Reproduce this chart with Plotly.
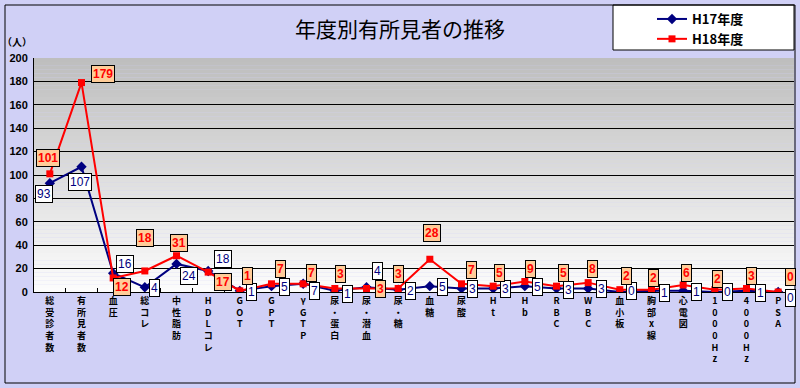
import plotly.graph_objects as go

categories = ["総受診者数", "有所見者数", "血圧", "総コレ", "中性脂肪", "HDLコレ", "GOT", "GPT", "γGTP",
              "尿・蛋白", "尿・潜血", "尿・糖", "血糖", "尿酸", "Ht", "Hb", "RBC", "WBC", "血小板",
              "胸部x線", "心電図", "1000Hz", "4000Hz", "PSA"]
h17 = [93, 107, 16, 4, 24, 18, 1, 5, 7, 1, 4, 2, 5, 3, 3, 5, 3, 3, 0, 1, 1, 0, 1, 0]
h18 = [101, 179, 12, 18, 31, 17, 1, 7, 7, 3, 3, 3, 28, 7, 5, 9, 5, 8, 2, 2, 6, 2, 3, 0]
y_ticks = [0, 20, 40, 60, 80, 100, 120, 140, 160, 180, 200]

# label offsets in pixels (dx right, dy down)
off17 = [(-6, 11), (-2, 15), (12, -9), (10, 1), (12, 12), (15, -12), (12, 1), (13, 1), (11, 7),
         (13, 3), (11, -16), (12, 1), (13, 1), (11, 1), (12, 1), (13, 1), (12, 2), (13, 1),
         (12, -1), (13, 2), (13, 1), (13, 0), (14, 2), (12, 6)]
off18 = [(-2, -16), (21, -9), (9, 9), (0, -33), (2, -13), (15, 10), (8, -15), (9, -15), (8, -11),
         (6, -14), (14, 1), (0, -14), (2, -26), (10, -14), (6, -13), (6, -12), (7, -13), (4, -14),
         (7, -14), (2, -12), (3, -12), (3, -11), (5, -12), (12, -15)]

tick_text = ["<br>".join(list(c)) for c in categories]

fig = go.Figure()
fig.add_trace(go.Scatter(x=categories, y=h17, mode="lines+markers", name="H17年度",
                         line=dict(color="#000080", width=2),
                         marker=dict(symbol="diamond", size=8, color="#000080")))
fig.add_trace(go.Scatter(x=categories, y=h18, mode="lines+markers", name="H18年度",
                         line=dict(color="#ff0000", width=2),
                         marker=dict(symbol="square", size=7, color="#ff0000")))

annotations = []
for c, v, (dx, dy) in zip(categories, h17, off17):
    annotations.append(dict(x=c, y=v, text=str(v), showarrow=False, xshift=dx, yshift=-dy,
                            font=dict(family="Liberation Sans", size=12, color="#000080"),
                            bgcolor="white", bordercolor="black", borderwidth=1, borderpad=1))
for c, v, (dx, dy) in zip(categories, h18, off18):
    annotations.append(dict(x=c, y=v, text="<b>%d</b>" % v, showarrow=False, xshift=dx, yshift=-dy,
                            font=dict(family="Liberation Sans", size=12, color="#ff0000"),
                            bgcolor="#ffcc99", bordercolor="black", borderwidth=1, borderpad=1))
annotations.append(dict(xref="paper", yref="paper", x=(17 - 34) / 760, y=(292 - 41) / 234,
                        xanchor="center", yanchor="middle",
                        text="<b>（人）</b>", showarrow=False,
                        font=dict(family="Noto Sans CJK JP", size=10, color="black")))

shapes = []
# plot-area gradient
n = 60
for i in range(n):
    t = i / (n - 1)
    g = int(round(0xbe + (0xfc - 0xbe) * t))
    col = "rgb(%d,%d,%d)" % (g, g, g)
    shapes.append(dict(type="rect", xref="paper", yref="paper", x0=0, x1=1,
                       y0=1 - (i + 1) / n, y1=1 - i / n, fillcolor=col, line=dict(width=0),
                       layer="below"))
# legend box
shapes.append(dict(type="rect", xref="paper", yref="paper",
                   x0=(613 - 34) / 760, x1=(794 - 34) / 760,
                   y0=(292 - 50) / 234, y1=(292 - 5) / 234,
                   fillcolor="white", line=dict(color="black", width=1), layer="below"))
# outer border
shapes.append(dict(type="rect", xref="paper", yref="paper",
                   x0=(5 - 34) / 760, x1=(795 - 34) / 760,
                   y0=(292 - 383) / 234, y1=(292 - 5) / 234,
                   line=dict(color="black", width=1), layer="above"))

fig.update_layout(
    width=800, height=388,
    margin=dict(l=34, r=6, t=58, b=96, autoexpand=False),
    paper_bgcolor="#d0d0f6",
    plot_bgcolor="rgba(0,0,0,0)",
    title=dict(text="年度別有所見者の推移", x=0.5, xanchor="center", y=1 - 30 / 388, yanchor="middle",
               xref="container", font=dict(family="Noto Sans CJK JP", size=21, color="black")),
    legend=dict(xref="container", yref="container", x=652 / 800, y=1 - 4 / 388,
                xanchor="left", yanchor="top", bgcolor="rgba(0,0,0,0)",
                font=dict(family="Noto Sans CJK JP", size=13, color="black", weight="bold"),
                itemwidth=30, tracegroupgap=0),
    showlegend=True,
    annotations=annotations,
    shapes=shapes,
    xaxis=dict(type="category", tickmode="array", tickvals=categories, ticktext=tick_text,
               showgrid=False, showline=True, linecolor="black", linewidth=1,
               ticks="inside", ticklen=4, tickcolor="black", tickson="boundaries",
               range=[-0.5, len(categories) - 0.5],
               tickfont=dict(family="Noto Sans CJK JP", size=9, color="black", weight="bold"),
               zeroline=False),
    yaxis=dict(range=[0, 200], tickmode="array", tickvals=y_ticks, showgrid=True,
               gridcolor="black", gridwidth=1, showline=True, linecolor="black",
               tickfont=dict(family="Liberation Sans", size=11, color="black", weight="bold"),
               zeroline=False, ticks="", ticklabelstandoff=3),
    font=dict(family="Noto Sans CJK JP"),
)

fig.write_html("out.html", config={"displayModeBar": False},
               post_script="document.body.style.margin='0';document.body.style.overflow='hidden';")
